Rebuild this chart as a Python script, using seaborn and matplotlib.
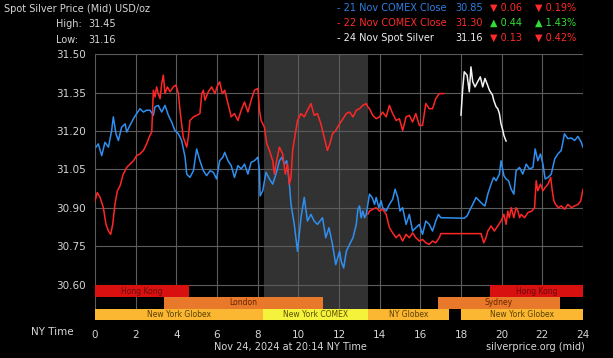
import numpy as np
import pandas as pd
import matplotlib
matplotlib.use("Agg")
import matplotlib.pyplot as plt
import seaborn as sns

# 21 Nov COMEX close (blue)
blue_hours = [0.05, 0.16, 0.33, 0.49, 0.66, 0.82, 0.90, 1.03, 1.15, 1.31, 1.48, 1.56, 1.72, 1.89,
              2.05, 2.21, 2.38, 2.54, 2.70, 2.87, 2.95, 3.11, 3.28, 3.44, 3.61, 3.77, 3.93, 4.10,
              4.26, 4.43, 4.51, 4.67, 4.84, 5.00, 5.16, 5.33, 5.49, 5.66, 5.82, 5.98, 6.13, 6.29,
              6.38, 6.54, 6.70, 6.86, 7.03, 7.19, 7.35, 7.52, 7.68, 7.84, 8.01, 8.09, 8.12, 8.25,
              8.41, 8.58, 8.74, 8.90, 9.07, 9.20, 9.31, 9.43, 9.56, 9.64, 9.80, 9.96, 10.13, 10.29,
              10.45, 10.62, 10.78, 10.94, 11.19, 11.35, 11.51, 11.68, 11.84, 12.03, 12.11, 12.23,
              12.36, 12.52, 12.69, 12.85, 12.93, 13.01, 13.09, 13.17, 13.26, 13.34, 13.42, 13.50,
              13.63, 13.75, 13.83, 13.96, 14.07, 14.15, 14.32, 14.48, 14.64, 14.76, 14.89, 15.00,
              15.13, 15.30, 15.46, 15.62, 15.78, 15.95, 16.11, 16.27, 16.44, 16.60, 16.76, 16.89,
              17.01, 18.16, 18.30, 18.41, 18.58, 18.74, 18.90, 19.07, 19.18, 19.32, 19.48, 19.61,
              19.73, 19.89, 19.97, 20.11, 20.22, 20.34, 20.47, 20.60, 20.71, 20.88, 21.04, 21.21,
              21.37, 21.54, 21.65, 21.78, 21.91, 22.03, 22.14, 22.28, 22.44, 22.61, 22.77, 22.93,
              23.09, 23.26, 23.43, 23.59, 23.75, 23.92, 24.00]
blue_prices = [31.137, 31.150, 31.104, 31.156, 31.137, 31.202, 31.255, 31.189, 31.163, 31.215, 31.228,
               31.196, 31.222, 31.248, 31.268, 31.287, 31.274, 31.281, 31.281, 31.261, 31.294, 31.300,
               31.274, 31.300, 31.261, 31.235, 31.202, 31.189, 31.163, 31.098, 31.032, 31.019, 31.045,
               31.130, 31.084, 31.045, 31.026, 31.045, 31.039, 31.013, 31.084, 31.098, 31.117, 31.084,
               31.065, 31.019, 31.065, 31.052, 31.071, 31.032, 31.078, 31.084, 31.098, 31.045, 30.947,
               30.967, 31.039, 31.013, 30.993, 31.032, 31.084, 31.098, 31.071, 31.084, 30.993, 30.914,
               30.836, 30.731, 30.862, 30.941, 30.849, 30.875, 30.849, 30.836, 30.862, 30.784, 30.823,
               30.758, 30.679, 30.731, 30.692, 30.666, 30.731, 30.758, 30.784, 30.836, 30.895, 30.908,
               30.862, 30.888, 30.862, 30.875, 30.914, 30.954, 30.941, 30.914, 30.941, 30.901, 30.928,
               30.901, 30.888, 30.914, 30.934, 30.973, 30.941, 30.888, 30.901, 30.836, 30.875, 30.810,
               30.823, 30.836, 30.797, 30.849, 30.836, 30.810, 30.849, 30.875, 30.862, 30.860, 30.869,
               30.888, 30.914, 30.941, 30.928, 30.914, 30.908, 30.954, 30.993, 31.019, 31.006, 31.032,
               31.084, 31.026, 31.013, 31.006, 30.973, 30.954, 31.045, 31.058, 31.032, 31.071, 31.052,
               31.058, 31.130, 31.084, 31.111, 31.071, 31.013, 31.019, 31.032, 31.091, 31.111, 31.124,
               31.189, 31.170, 31.173, 31.163, 31.179, 31.156, 31.137]

# 22 Nov COMEX close (red), first stretch
red1_hours = [0.00, 0.11, 0.25, 0.41, 0.54, 0.66, 0.77, 0.87, 0.98, 1.10, 1.23, 1.39, 1.56, 1.72,
              1.89, 2.05, 2.21, 2.38, 2.54, 2.70, 2.79, 2.87, 2.95, 3.03, 3.11, 3.20, 3.28, 3.36,
              3.44, 3.56, 3.69, 3.85, 3.98, 4.10, 4.18, 4.26, 4.34, 4.43, 4.51, 4.59, 4.67, 4.84,
              5.00, 5.16, 5.25, 5.33, 5.41, 5.57, 5.74, 5.90, 6.00, 6.13, 6.26, 6.38, 6.54, 6.70,
              6.86, 7.03, 7.19, 7.35, 7.52, 7.68, 7.84, 8.01, 8.09, 8.17, 8.33, 8.45, 8.58, 8.74,
              8.82, 8.90, 9.07, 9.23, 9.36, 9.47, 9.56, 9.64, 9.72, 9.85, 9.96, 10.13, 10.29, 10.45,
              10.62, 10.78, 10.94, 11.11, 11.27, 11.43, 11.55, 11.68, 11.84, 12.03, 12.20, 12.36,
              12.52, 12.69, 12.85, 13.01, 13.17, 13.34, 13.42, 13.50, 13.66, 13.83, 13.99, 14.15,
              14.32, 14.48, 14.64, 14.81, 14.97, 15.13, 15.30, 15.46, 15.62, 15.78, 15.95, 16.11,
              16.27, 16.44, 16.60, 16.76, 16.93, 17.17]
red1_prices = [30.927, 30.960, 30.941, 30.901, 30.836, 30.810, 30.797, 30.836, 30.914, 30.967, 30.986,
               31.032, 31.058, 31.071, 31.084, 31.104, 31.111, 31.124, 31.150, 31.183, 31.196, 31.359,
               31.333, 31.372, 31.346, 31.326, 31.385, 31.418, 31.346, 31.372, 31.353, 31.372, 31.379,
               31.346, 31.281, 31.228, 31.176, 31.156, 31.137, 31.176, 31.241, 31.255, 31.261, 31.268,
               31.346, 31.359, 31.320, 31.353, 31.372, 31.346, 31.372, 31.392, 31.346, 31.359, 31.307,
               31.255, 31.268, 31.241, 31.281, 31.313, 31.274, 31.320, 31.359, 31.366, 31.281, 31.241,
               31.215, 31.150, 31.124, 31.084, 31.032, 31.071, 31.137, 31.111, 31.032, 31.071, 30.993,
               31.019, 31.124, 31.189, 31.241, 31.268, 31.255, 31.281, 31.307, 31.261, 31.268, 31.228,
               31.176, 31.124, 31.150, 31.189, 31.202, 31.228, 31.248, 31.268, 31.274, 31.255, 31.281,
               31.287, 31.300, 31.307, 31.294, 31.287, 31.261, 31.248, 31.255, 31.274, 31.255, 31.300,
               31.268, 31.241, 31.248, 31.202, 31.255, 31.261, 31.235, 31.268, 31.222, 31.222, 31.307,
               31.287, 31.287, 31.326, 31.346, 31.346]

# 22 Nov COMEX close (red), second stretch
red2_hours = [13.42, 13.50, 13.66, 13.83, 13.99, 14.15, 14.32, 14.40, 14.48, 14.64, 14.81, 14.97,
              15.13, 15.30, 15.46, 15.62, 15.78, 15.95, 16.11, 16.27, 16.44, 16.60, 16.76, 16.93,
              17.01, 18.99, 19.12, 19.23, 19.32, 19.48, 19.64, 19.81, 19.97, 20.11, 20.22, 20.30,
              20.38, 20.47, 20.60, 20.71, 20.80, 20.88, 20.96, 21.13, 21.29, 21.49, 21.62, 21.70,
              21.78, 21.91, 22.03, 22.14, 22.28, 22.41, 22.49, 22.57, 22.65, 22.80, 22.93, 23.10,
              23.26, 23.43, 23.59, 23.76, 23.89, 24.00]
red2_prices = [30.875, 30.888, 30.895, 30.901, 30.888, 30.895, 30.875, 30.849, 30.823, 30.803, 30.784,
               30.797, 30.771, 30.797, 30.784, 30.803, 30.784, 30.771, 30.777, 30.764, 30.758, 30.771,
               30.764, 30.784, 30.800, 30.800, 30.764, 30.784, 30.810, 30.830, 30.810, 30.830, 30.849,
               30.875, 30.836, 30.888, 30.862, 30.901, 30.862, 30.901, 30.888, 30.862, 30.875, 30.862,
               30.882, 30.888, 30.901, 31.006, 30.967, 30.993, 30.967, 30.980, 30.993, 31.019, 30.967,
               30.928, 30.914, 30.901, 30.908, 30.895, 30.914, 30.901, 30.908, 30.914, 30.928, 30.973]

# 24 Nov spot silver (white)
white_hours = [18.00, 18.08, 18.16, 18.30, 18.41, 18.49, 18.58, 18.69, 18.82, 18.95, 19.07, 19.18,
               19.28, 19.40, 19.55, 19.61, 19.73, 19.81, 19.89, 19.97, 20.06, 20.11, 20.22]
white_prices = [31.261, 31.359, 31.431, 31.418, 31.353, 31.450, 31.392, 31.372, 31.392, 31.411, 31.372,
                31.405, 31.385, 31.359, 31.340, 31.320, 31.294, 31.287, 31.268, 31.228, 31.202, 31.183,
                31.160]

# trading sessions: name, start, end, row, colour
session_names = ["Hong Kong", "Hong Kong", "London", "Sydney", "New York Globex", "New York COMEX",
                 "NY Globex", "New York Globex"]
session_start = [0.0, 19.43, 3.4, 16.86, 0.0, 8.28, 13.45, 18.0]
session_end = [4.62, 24.0, 11.2, 22.87, 8.28, 13.45, 17.43, 24.0]
session_row = [0, 0, 1, 1, 2, 2, 2, 2]
session_color = ["#d81010", "#d81010", "#e8782a", "#e8782a", "#fbb632", "#f4f23a", "#fbb632", "#fbb632"]
session_text = ["#6a0c0c", "#6a0c0c", "#6a2400", "#6a2400", "#5a4000", "#5a5000", "#5a4000", "#5a4000"]

yticks = [30.60, 30.75, 30.90, 31.05, 31.20, 31.35, 31.50]
xticks = list(range(0, 25, 2))

sns.set_style("dark")
plt.rcParams['font.family'] = ['DejaVu Sans']
fg = "#d6d6d6"
fs = 7

fig = plt.figure(figsize=(6.13, 3.58), dpi=100, facecolor="black")
ax = fig.add_axes([0.155, 0.106, 0.796, 0.743])
ax.set_facecolor("black")

# comex trading hours shade
ax.axvspan(8.33, 13.42, color="#323232", zorder=0.1, lw=0)

def draw(h, p, c):
    d = pd.DataFrame({"hour": h, "price": p})
    sns.lineplot(data=d, x="hour", y="price", color=c, lw=1.1, ax=ax, sort=False,
                 estimator=None, zorder=3)

draw(blue_hours, blue_prices, "#2f8ff0")
draw(red1_hours, red1_prices, "#ff2626")
draw(red2_hours, red2_prices, "#ff2626")
draw(white_hours, white_prices, "#f2f2f2")

row_h = 0.045
for name, s, e, r, c, tc in zip(session_names, session_start, session_end, session_row,
                                session_color, session_text):
    top = 30.598 - r * row_h
    ax.barh(top - row_h / 2, e - s, left=s, height=row_h, color=c, zorder=2, lw=0)
    ax.text((s + e) / 2, top - row_h / 2, name, ha="center", va="center", fontsize=5.5,
            color=tc, zorder=4)

ax.set_xlim(0, 24)
ax.set_ylim(30.463, 31.50)
ax.set_xticks(xticks)
ax.set_yticks(yticks)
ax.set_yticklabels([f"{v:.2f}" for v in yticks])
ax.grid(True, color="#5c5c5c", lw=0.8)
ax.set_axisbelow(True)
for sp in ax.spines.values():
    sp.set_visible(False)
ax.tick_params(colors=fg, labelsize=7.5, length=3, width=0.6, color="#888888")
ax.tick_params(axis="x", pad=4)
ax.set_xlabel("")
ax.set_ylabel("")

# header texts
fig.text(4 / 613, 1 - 9 / 358, "Spot Silver Price (Mid) USD/oz", color=fg, fontsize=fs, va="center")
fig.text(56 / 613, 1 - 24 / 358, "High:", color=fg, fontsize=fs, va="center")
fig.text(88 / 613, 1 - 24 / 358, "31.45", color=fg, fontsize=fs, va="center")
fig.text(56 / 613, 1 - 40 / 358, "Low:", color=fg, fontsize=fs, va="center")
fig.text(88 / 613, 1 - 40 / 358, "31.16", color=fg, fontsize=fs, va="center")

# legend rows
leg_label = ["- 21 Nov COMEX Close", "- 22 Nov COMEX Close", "- 24 Nov Spot Silver"]
leg_price = ["30.85", "31.30", "31.16"]
leg_chg = ["\u25bc 0.06", "\u25b2 0.44", "\u25bc 0.13"]
leg_pct = ["\u25bc 0.19%", "\u25b2 1.43%", "\u25bc 0.42%"]
leg_color = ["#2f7fe0", "#ff2a2a", "#eeeeee"]
chg_color = ["#ff2a2a", "#33dd33", "#ff2a2a"]
for i in range(3):
    y = 1 - (8 + 15 * i) / 358
    fig.text(337 / 613, y, leg_label[i], color=leg_color[i], fontsize=fs, va="center")
    fig.text(455 / 613, y, leg_price[i], color=leg_color[i], fontsize=fs, va="center")
    fig.text(490 / 613, y, leg_chg[i], color=chg_color[i], fontsize=fs, va="center")
    fig.text(535 / 613, y, leg_pct[i], color=chg_color[i], fontsize=fs, va="center")

# footer texts
fig.text(74 / 613, 1 - 332 / 358, "NY Time", color=fg, fontsize=7.5, va="center", ha="right")
fig.text(214 / 613, 1 - 347 / 358, "Nov 24, 2024 at 20:14 NY Time", color=fg, fontsize=fs,
         va="center")
fig.text(585 / 613, 1 - 347 / 358, "silverprice.org (mid)", color=fg, fontsize=fs, va="center",
         ha="right")

fig.savefig("out.png", dpi=100, facecolor="black")
